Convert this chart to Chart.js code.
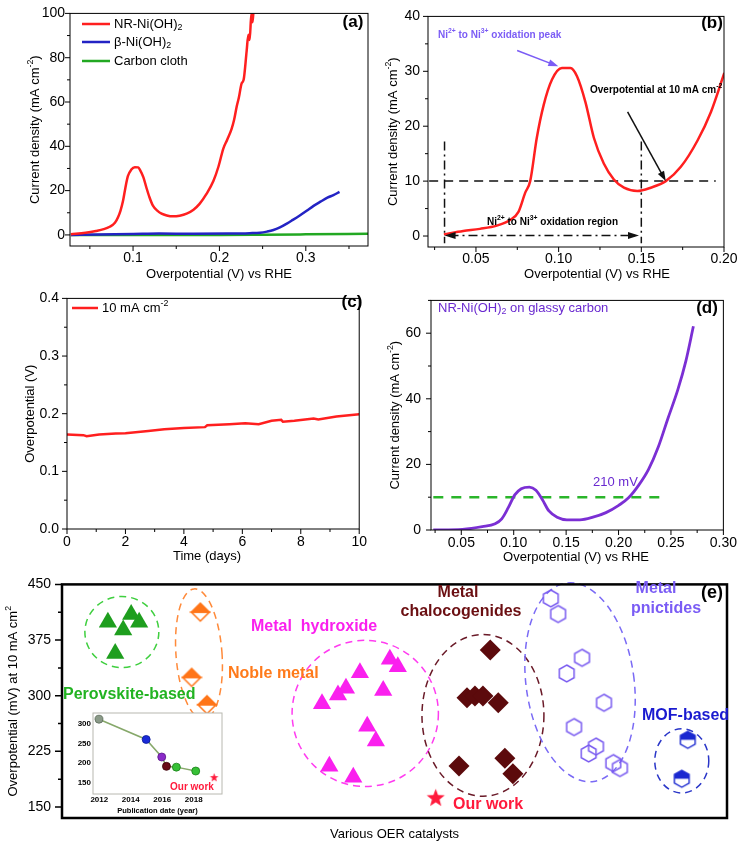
<!DOCTYPE html>
<html>
<head>
<meta charset="utf-8">
<title>NR-Ni(OH)2 OER performance</title>
<script src="https://cdn.jsdelivr.net/npm/chart.js@4.4.1/dist/chart.umd.min.js"></script>
<style>
  body { margin: 0; background: #fff; }
  #wrap { position: relative; width: 742px; height: 847px; overflow: hidden; }
  canvas { position: absolute; }
</style>
</head>
<body>
<div id="wrap">
  <canvas id="cA" width="372" height="282" style="left:0px;top:0px"></canvas>
  <canvas id="cB" width="370" height="282" style="left:372px;top:0px"></canvas>
  <canvas id="cC" width="372" height="283" style="left:0px;top:282px"></canvas>
  <canvas id="cD" width="370" height="283" style="left:372px;top:282px"></canvas>
  <canvas id="cE" width="742" height="282" style="left:0px;top:565px"></canvas>
  <canvas id="cI" width="170" height="112" style="left:60px;top:705px"></canvas>
</div>
<script>
/* ---------- DATA ---------- */
// (a) LSV curves, overpotential (V) vs current density (mA cm-2)
const aNrEta = [0.028, 0.045, 0.057, 0.066, 0.073, 0.079, 0.0826, 0.0855, 0.0884, 0.091, 0.094, 0.098, 0.102, 0.106, 0.108, 0.112, 0.1155, 0.119, 0.123, 0.128, 0.133, 0.139, 0.146, 0.154, 0.162, 0.170, 0.177, 0.185, 0.193, 0.199, 0.2045, 0.209, 0.214, 0.217, 0.220, 0.2225, 0.2257, 0.228, 0.2315, 0.2335, 0.235, 0.237, 0.2385, 0.240];
const aNrJ   = [0.3, 1.0, 1.8, 2.6, 3.7, 5.5, 8, 11, 15.4, 21, 26.5, 29.5, 30.6, 30.5, 29.4, 26, 21.3, 17, 13.2, 11, 9.6, 8.8, 8.4, 8.7, 9.6, 11.4, 14, 18.5, 24.3, 31, 39, 43, 47.8, 52, 58, 62, 68.4, 70, 83, 90.4, 88, 100, 96, 106];
const aBetaEta = [0.028, 0.06, 0.10, 0.13, 0.17, 0.21, 0.235, 0.247, 0.255, 0.2625, 0.27, 0.278, 0.285, 0.293, 0.301, 0.309, 0.317, 0.325, 0.332, 0.339];
const aBetaJ   = [0, 0.2, 0.4, 0.6, 0.5, 0.6, 0.8, 1.0, 1.5, 2.2, 3.4, 5.1, 6.8, 8.8, 10.9, 13.1, 15, 16.8, 18, 19.4];
const aCcEta = [0.028, 0.10, 0.20, 0.25, 0.30, 0.372];
const aCcJ   = [0, 0, 0, 0.1, 0.25, 0.5];

// (b) zoom on the Ni2+/Ni3+ oxidation peak
const bEta = [0.0306, 0.0423, 0.0524, 0.0626, 0.0706, 0.0757, 0.0798, 0.0828, 0.0868, 0.0909, 0.096, 0.102, 0.1071, 0.1111, 0.1162, 0.1213, 0.1273, 0.1334, 0.1395, 0.1476, 0.1557, 0.1648, 0.1739, 0.184, 0.1921, 0.2002];
const bJ   = [0.3, 0.9, 1.3, 1.9, 2.9, 4.4, 7.9, 10, 17.9, 23.8, 28.5, 30.6, 30.6, 29.1, 24.4, 17.9, 13.2, 10.3, 8.8, 8.2, 8.8, 10, 12.6, 17.4, 22.6, 29.7];

// (c) stability at 10 mA cm-2
const cDays = [0, 0.56, 0.67, 1.1, 1.67, 2.0, 2.78, 3.33, 4.0, 4.72, 4.8, 5.56, 6.1, 6.56, 7.0, 7.33, 7.39, 7.78, 8.44, 8.6, 9.22, 10];
const cEta  = [0.1639, 0.1628, 0.161, 0.164, 0.1656, 0.166, 0.170, 0.173, 0.175, 0.1767, 0.18, 0.1817, 0.1833, 0.1817, 0.1878, 0.1894, 0.186, 0.1878, 0.1917, 0.19, 0.195, 0.1989];

// (d) NR-Ni(OH)2 on glassy carbon
const dEta = [0.0233, 0.051, 0.07, 0.0823, 0.0886, 0.0948, 0.101, 0.1072, 0.115, 0.1212, 0.1274, 0.1336, 0.1414, 0.1507, 0.1632, 0.1756, 0.188, 0.2005, 0.2098, 0.2191, 0.2285, 0.2378, 0.2471, 0.2565, 0.2642, 0.2714];
const dJ   = [0, 0.2, 1.0, 1.9, 3.4, 6.8, 10.7, 12.6, 13.1, 12.1, 9.2, 5.8, 3.9, 3.1, 3.1, 3.9, 5.3, 7.6, 9.9, 13.6, 18.4, 25.2, 34, 42.7, 51.5, 62.1];

// (e) overpotential at 10 mA cm-2 for catalyst families (x = position along the category axis)
const perovX = [6.9, 10.4, 11.6, 9.2, 8.0];
const perovY = [399, 409.5, 399, 388.5, 357];
const nobleX = [20.8, 19.5, 21.8];
const nobleY = [412.7, 324.7, 287.9];
const hydroxX = [49.3, 50.5, 44.8, 42.7, 41.5, 39.1, 48.3, 45.9, 47.2, 40.2, 43.8];
const hydroxY = [349, 339, 331, 310, 301, 289, 307, 259, 239, 205, 190];
const chalcX = [64.4, 60.9, 62.1, 63.3, 65.6, 59.7, 66.6, 67.8];
const chalcY = [361.5, 297.1, 299.7, 299.7, 290.5, 205.2, 215.7, 194.7];
const pnicX = [73.5, 74.6, 78.2, 75.9, 81.5, 77.0, 80.3, 79.2, 82.9, 83.9];
const pnicY = [431.1, 410.1, 351.0, 330.0, 290.5, 257.7, 231.4, 222.2, 209.1, 202.5];
const mofX = [94.1, 93.2];
const mofY = [240.6, 188.1];
const ourX = [56.2];
const ourY = [161.8];

// inset: best reported overpotential by publication year
const pubYear = [2011.98, 2014.98, 2015.97, 2016.27, 2016.9, 2018.13];
const pubEta  = [312, 260, 215, 191, 189, 179];
const ourYear = [2019.3];
const ourEta  = [162];

/* ---------- HELPERS ---------- */
const FONT = '"Liberation Sans", Arial, Helvetica, sans-serif';
Chart.defaults.font.family = FONT;
Chart.defaults.color = '#000';
Chart.defaults.animation = false;
Chart.defaults.events = [];
Chart.defaults.plugins.legend.display = false;
Chart.defaults.plugins.tooltip.enabled = false;

const pts = (xs, ys) => xs.map((x, i) => ({ x: x, y: ys[i] }));

function curve(xs, ys, color, width, extra) {
  return Object.assign({
    data: pts(xs, ys), showLine: true, borderColor: color, backgroundColor: color,
    borderWidth: width || 2.5, pointRadius: 0, cubicInterpolationMode: 'monotone', fill: false
  }, extra || {});
}

// text with ^sup and _sub parts
function rich(ctx, parts, x, y, o) {
  o = o || {};
  const size = o.size || 13, wt = o.bold ? 'bold ' : '';
  const segs = parts.map(p => {
    let t = p, s = size, dy = 0;
    if (p[0] === '^') { t = p.slice(1); s = size * 0.68; dy = -size * 0.36; }
    else if (p[0] === '_') { t = p.slice(1); s = size * 0.68; dy = size * 0.24; }
    ctx.font = wt + s + 'px ' + FONT;
    return { t: t, s: s, dy: dy, w: ctx.measureText(t).width };
  });
  const total = segs.reduce((sum, g) => sum + g.w, 0);
  ctx.save();
  ctx.translate(x, y);
  if (o.rot) ctx.rotate(o.rot);
  let cx = o.align === 'center' ? -total / 2 : (o.align === 'right' ? -total : 0);
  ctx.fillStyle = o.color || '#000';
  ctx.textBaseline = 'middle';
  ctx.textAlign = 'left';
  segs.forEach(g => { ctx.font = wt + g.s + 'px ' + FONT; ctx.fillText(g.t, cx, g.dy); cx += g.w; });
  ctx.restore();
}

// box + outward major/minor ticks
function frame(chart, f) {
  const ctx = chart.ctx, a = chart.chartArea, sx = chart.scales.x, sy = chart.scales.y;
  ctx.save();
  ctx.strokeStyle = f.color || '#000';
  ctx.lineWidth = f.lw || 1;
  ctx.strokeRect(a.left, a.top, a.right - a.left, a.bottom - a.top);
  ctx.lineWidth = f.tw || 1;
  ctx.beginPath();
  const tx = (vals, len) => vals.forEach(v => { const p = sx.getPixelForValue(v); ctx.moveTo(p, a.bottom); ctx.lineTo(p, a.bottom + len); });
  const ty = (vals, len) => vals.forEach(v => { const p = sy.getPixelForValue(v); ctx.moveTo(a.left, p); ctx.lineTo(a.left - len, p); });
  tx(f.xMaj || [], f.maj || 5); tx(f.xMin || [], f.min || 3);
  ty(f.yMaj || [], f.maj || 5); ty(f.yMin || [], f.min || 3);
  ctx.stroke();
  ctx.restore();
}

function scales(o) {
  return {
    x: {
      type: 'linear', min: o.x[0], max: o.x[1],
      afterBuildTicks: s => { s.ticks = o.xt.map(v => ({ value: v })); },
      afterFit: s => { s.height = o.xh; },
      grid: { display: false, drawTicks: false }, border: { display: false },
      ticks: { display: o.xt.length > 0, padding: o.xp, maxRotation: 0, autoSkip: false,
               font: { size: o.fs || 14, weight: o.fw || 'normal' }, callback: o.xf }
    },
    y: {
      type: 'linear', min: o.y[0], max: o.y[1],
      afterBuildTicks: s => { s.ticks = o.yt.map(v => ({ value: v })); },
      afterFit: s => { s.width = o.yw; },
      grid: { display: false, drawTicks: false }, border: { display: false },
      ticks: { padding: o.yp, autoSkip: false,
               font: { size: o.fs || 14, weight: o.fw || 'normal' }, callback: o.yf }
    }
  };
}

function head(ctx, x1, y1, x2, y2, len, wid, color) {
  const a = Math.atan2(y2 - y1, x2 - x1);
  ctx.save();
  ctx.fillStyle = color;
  ctx.beginPath();
  ctx.moveTo(x2, y2);
  ctx.lineTo(x2 - len * Math.cos(a) + wid * Math.sin(a), y2 - len * Math.sin(a) - wid * Math.cos(a));
  ctx.lineTo(x2 - len * Math.cos(a) - wid * Math.sin(a), y2 - len * Math.sin(a) + wid * Math.cos(a));
  ctx.closePath();
  ctx.fill();
  ctx.restore();
}

function arrow(chart, from, to, color, lw) {
  const sx = chart.scales.x, sy = chart.scales.y, ctx = chart.ctx;
  const x1 = sx.getPixelForValue(from[0]), y1 = sy.getPixelForValue(from[1]);
  const x2 = sx.getPixelForValue(to[0]), y2 = sy.getPixelForValue(to[1]);
  ctx.save();
  ctx.strokeStyle = color; ctx.lineWidth = lw || 1.5;
  ctx.beginPath(); ctx.moveTo(x1, y1); ctx.lineTo(x2 - (x2 - x1) * 0.08, y2 - (y2 - y1) * 0.08); ctx.stroke();
  ctx.restore();
  head(ctx, x1, y1, x2, y2, 10, 3.5, color);
}

const RED = '#ff1f1f', BLUE = '#2323c4', GREEN = '#22a822', PURPLE = '#7b2fd4';
const num = d => v => Number(v).toFixed(d);

/* ---------- (a) ---------- */
new Chart(document.getElementById('cA'), {
  type: 'scatter',
  data: { datasets: [
    curve(aNrEta, aNrJ, RED),
    curve(aBetaEta, aBetaJ, BLUE),
    curve(aCcEta, aCcJ, GREEN)
  ] },
  options: {
    responsive: false,
    layout: { padding: { top: 8, right: 4, left: 0, bottom: 0 } },
    scales: scales({ x: [0.027, 0.372], y: [-5, 100], xt: [0.1, 0.2, 0.3], yt: [0, 20, 40, 60, 80, 100],
                     xh: 36, yw: 70, xp: 4, yp: 5, xf: num(1), yf: num(0) })
  },
  plugins: [{
    id: 'decoA',
    afterDraw(chart) {
      const ctx = chart.ctx, a = chart.chartArea;
      frame(chart, { xMaj: [0.1, 0.2, 0.3], xMin: [0.05, 0.15, 0.25, 0.35],
                     yMaj: [0, 20, 40, 60, 80, 100], yMin: [10, 30, 50, 70, 90] });
      [[RED, ['NR-Ni(OH)', '_2'], 24], [BLUE, ['β-Ni(OH)', '_2'], 42], [GREEN, ['Carbon cloth'], 61]].forEach(l => {
        ctx.save(); ctx.strokeStyle = l[0]; ctx.lineWidth = 2.5;
        ctx.beginPath(); ctx.moveTo(82, l[2]); ctx.lineTo(110, l[2]); ctx.stroke(); ctx.restore();
        rich(ctx, l[1], 114, l[2], { size: 13 });
      });
      rich(ctx, ['(a)'], 353, 22, { size: 17, bold: true, align: 'center' });
      rich(ctx, ['Overpotential (V) vs RHE'], (a.left + a.right) / 2, 274, { align: 'center' });
      rich(ctx, ['Current density (mA cm', '^-2', ')'], 35, (a.top + a.bottom) / 2, { align: 'center', rot: -Math.PI / 2 });
    }
  }]
});

/* ---------- (b) ---------- */
const dashDot = [9, 4, 2, 4];
new Chart(document.getElementById('cB'), {
  type: 'scatter',
  data: { datasets: [
    curve(bEta, bJ, RED),
    curve([0.0217, 0.195], [10, 10], '#111', 1.5, { borderDash: [9, 6] }),
    curve([0.031, 0.031], [17.2, -1.3], '#111', 1.5, { borderDash: dashDot }),
    curve([0.15, 0.15], [17.2, -1.3], '#111', 1.5, { borderDash: dashDot }),
    curve([0.034, 0.146], [0.1, 0.1], '#111', 1.5, { borderDash: dashDot })
  ] },
  options: {
    responsive: false,
    layout: { padding: { top: 8, right: 18, left: 0, bottom: 0 } },
    scales: scales({ x: [0.021, 0.2], y: [-2, 40], xt: [0.05, 0.10, 0.15, 0.20], yt: [0, 10, 20, 30, 40],
                     xh: 35, yw: 56, xp: 4, yp: 8, xf: num(2), yf: num(0) })
  },
  plugins: [{
    id: 'decoB',
    afterDraw(chart) {
      const ctx = chart.ctx, a = chart.chartArea, sx = chart.scales.x, sy = chart.scales.y;
      frame(chart, { xMaj: [0.05, 0.10, 0.15, 0.20], xMin: [0.025, 0.075, 0.125, 0.175],
                     yMaj: [0, 10, 20, 30, 40], yMin: [5, 15, 25, 35] });
      const y0 = sy.getPixelForValue(0.1);
      head(ctx, sx.getPixelForValue(0.05), y0, sx.getPixelForValue(0.031), y0, 11, 3.5, '#111');
      head(ctx, sx.getPixelForValue(0.13), y0, sx.getPixelForValue(0.1486), y0, 11, 3.5, '#111');
      arrow(chart, [0.0749, 33.8], [0.0998, 30.9], '#7b5cf5', 1.5);
      arrow(chart, [0.1417, 22.6], [0.1648, 10.0], '#111', 1.5);
      rich(ctx, ['Ni', '^2+', ' to Ni', '^3+', ' oxidation peak'], 66, 35, { size: 10, bold: true, color: '#7b5cf5' });
      rich(ctx, ['Overpotential at 10 mA cm', '^-2'], 218, 90, { size: 10, bold: true });
      rich(ctx, ['Ni', '^2+', ' to Ni', '^3+', ' oxidation region'], 115, 222, { size: 10, bold: true });
      rich(ctx, ['(b)'], 340, 23, { size: 17, bold: true, align: 'center' });
      rich(ctx, ['Overpotential (V) vs RHE'], 225, 274, { align: 'center' });
      rich(ctx, ['Current density (mA cm', '^-2', ')'], 21, (a.top + a.bottom) / 2, { align: 'center', rot: -Math.PI / 2 });
    }
  }]
});

/* ---------- (c) ---------- */
new Chart(document.getElementById('cC'), {
  type: 'scatter',
  data: { datasets: [ curve(cDays, cEta, RED, 2.5, { cubicInterpolationMode: 'default', tension: 0 }) ] },
  options: {
    responsive: false,
    layout: { padding: { top: 7, right: 5, left: 0, bottom: 0 } },
    scales: scales({ x: [0, 10], y: [0, 0.4], xt: [0, 2, 4, 6, 8, 10], yt: [0, 0.1, 0.2, 0.3, 0.4],
                     xh: 36, yw: 67, xp: 5, yp: 8, xf: num(0), yf: num(1) })
  },
  plugins: [{
    id: 'decoC',
    afterDraw(chart) {
      const ctx = chart.ctx, a = chart.chartArea;
      frame(chart, { xMaj: [0, 2, 4, 6, 8, 10], xMin: [1, 3, 5, 7, 9],
                     yMaj: [0, 0.1, 0.2, 0.3, 0.4], yMin: [0.05, 0.15, 0.25, 0.35] });
      ctx.save(); ctx.strokeStyle = RED; ctx.lineWidth = 2.5;
      ctx.beginPath(); ctx.moveTo(72, 26); ctx.lineTo(98, 26); ctx.stroke(); ctx.restore();
      rich(ctx, ['10 mA cm', '^-2'], 102, 26, { size: 13 });
      rich(ctx, ['(c)'], 352, 20, { size: 17, bold: true, align: 'center' });
      rich(ctx, ['Time (days)'], 207, 274, { align: 'center' });
      rich(ctx, ['Overpotential (V)'], 30, (a.top + a.bottom) / 2, { align: 'center', rot: -Math.PI / 2 });
    }
  }]
});

/* ---------- (d) ---------- */
new Chart(document.getElementById('cD'), {
  type: 'scatter',
  data: { datasets: [
    curve(dEta, dJ, PURPLE, 2.8),
    curve([0.0233, 0.244], [10, 10], '#2ab52a', 2.5, { borderDash: [10, 8] })
  ] },
  options: {
    responsive: false,
    layout: { padding: { top: 7, right: 12, left: 0, bottom: 0 } },
    scales: scales({ x: [0.0211, 0.30], y: [0, 70], xt: [0.05, 0.10, 0.15, 0.20, 0.25, 0.30], yt: [0, 20, 40, 60],
                     xh: 35, yw: 59, xp: 5, yp: 10, xf: num(2), yf: num(0) })
  },
  plugins: [{
    id: 'decoD',
    afterDraw(chart) {
      const ctx = chart.ctx, a = chart.chartArea;
      frame(chart, { xMaj: [0.05, 0.10, 0.15, 0.20, 0.25, 0.30], xMin: [0.025, 0.075, 0.125, 0.175, 0.225, 0.275],
                     yMaj: [0, 20, 40, 60], yMin: [10, 30, 50, 70] });
      rich(ctx, ['NR-Ni(OH)', '_2', ' on glassy carbon'], 66, 26, { size: 13, color: '#6a2ad0' });
      rich(ctx, ['210 mV'], 221, 200, { size: 13, color: '#6a2ad0' });
      rich(ctx, ['(d)'], 335, 26, { size: 17, bold: true, align: 'center' });
      rich(ctx, ['Overpotential (V) vs RHE'], 204, 275, { align: 'center' });
      rich(ctx, ['Current density (mA cm', '^-2', ')'], 23, (a.top + a.bottom) / 2, { align: 'center', rot: -Math.PI / 2 });
    }
  }]
});

/* ---------- (e) ---------- */
function sprite(size, draw) {
  const c = document.createElement('canvas');
  c.width = c.height = size;
  draw(c.getContext('2d'), size / 2);
  return c;
}
function hexPath(g, c, r) {
  g.beginPath();
  for (let k = 0; k < 6; k++) {
    const t = -Math.PI / 2 + k * Math.PI / 3;
    g.lineTo(c + r * Math.cos(t), c + r * Math.sin(t));
  }
  g.closePath();
}
const halfDiamond = (col, r) => sprite(2 * r + 4, (g, c) => {
  g.lineWidth = 1.5; g.strokeStyle = col;
  g.beginPath(); g.moveTo(c - r, c); g.lineTo(c, c + r); g.lineTo(c + r, c); g.closePath();
  g.fillStyle = '#fff'; g.fill(); g.stroke();
  g.beginPath(); g.moveTo(c - r, c); g.lineTo(c, c - r); g.lineTo(c + r, c); g.closePath();
  g.fillStyle = col; g.fill(); g.stroke();
});
const hexOpen = (col, r) => sprite(2 * r + 4, (g, c) => {
  g.lineWidth = 1.5; g.strokeStyle = col; hexPath(g, c, r); g.stroke();
});
const hexHalf = (col, r) => sprite(2 * r + 4, (g, c) => {
  g.lineWidth = 1.4; g.strokeStyle = col;
  hexPath(g, c, r); g.fillStyle = '#fff'; g.fill();
  g.save(); hexPath(g, c, r); g.clip(); g.fillStyle = col; g.fillRect(0, 0, 2 * c, c); g.restore();
  hexPath(g, c, r); g.stroke();
});
const star = (col, r) => sprite(2 * r + 2, (g, c) => {
  g.beginPath();
  for (let k = 0; k < 10; k++) {
    const t = -Math.PI / 2 + k * Math.PI / 5, rr = k % 2 ? r * 0.42 : r;
    g.lineTo(c + rr * Math.cos(t), c + rr * Math.sin(t));
  }
  g.closePath(); g.fillStyle = col; g.fill();
});

const groupRings = [
  { c: [9.0, 385.8],  r: [5.56, 47.9], rot: 0,      color: '#3fcf3f' },
  { c: [20.6, 356.2], r: [3.46, 88],   rot: -0.074, color: '#ff8a3a' },
  { c: [45.6, 276.1], r: [11, 98.5],   rot: 0,      color: '#ff3cf0' },
  { c: [63.3, 273.5], r: [9.17, 109],  rot: 0,      color: '#6a1a28' },
  { c: [77.9, 318.1], r: [8.12, 135],  rot: -0.137, color: '#7a6af5' },
  { c: [93.2, 212.2], r: [4.06, 43.3], rot: 0,      color: '#2a36c8' }
];

function marks(xs, ys, style) {
  return Object.assign({ data: pts(xs, ys), pointRadius: 10, borderWidth: 0 }, style);
}

new Chart(document.getElementById('cE'), {
  type: 'scatter',
  data: { datasets: [
    marks(perovX, perovY, { pointStyle: 'triangle', pointRadius: 10.5, backgroundColor: '#1e9e1e', borderColor: '#1e9e1e' }),
    marks(nobleX, nobleY, { pointStyle: halfDiamond('#ff7518', 9) }),
    marks(hydroxX, hydroxY, { pointStyle: 'triangle', pointRadius: 10.5, backgroundColor: '#fa20ee', borderColor: '#fa20ee' }),
    marks(chalcX, chalcY, { pointStyle: 'rectRot', pointRadius: 10.5, backgroundColor: '#5c0a0c', borderColor: '#5c0a0c' }),
    marks(pnicX, pnicY, { pointStyle: hexOpen('#7a5cf0', 8.5) }),
    marks(mofX, mofY, { pointStyle: hexHalf('#1a28d0', 8.5) }),
    marks(ourX, ourY, { pointStyle: star('#ff1a3c', 9.5) })
  ] },
  options: {
    responsive: false,
    layout: { padding: { top: 13, right: 15, left: 0, bottom: 0 } },
    scales: scales({ x: [0, 100], y: [135.2, 450], xt: [], yt: [150, 225, 300, 375, 450],
                     xh: 29, yw: 62, xp: 0, yp: 11, xf: num(0), yf: num(0) })
  },
  plugins: [{
    id: 'decoE',
    beforeDatasetsDraw(chart) {
      const ctx = chart.ctx, sx = chart.scales.x, sy = chart.scales.y;
      groupRings.forEach(e => {
        const cx = sx.getPixelForValue(e.c[0]), cy = sy.getPixelForValue(e.c[1]);
        const rx = Math.abs(sx.getPixelForValue(e.c[0] + e.r[0]) - cx);
        const ry = Math.abs(sy.getPixelForValue(e.c[1] + e.r[1]) - cy);
        ctx.save();
        ctx.beginPath(); ctx.ellipse(cx, cy, rx, ry, e.rot, 0, 2 * Math.PI);
        ctx.setLineDash([7, 5]); ctx.lineWidth = 1.5; ctx.strokeStyle = e.color; ctx.stroke();
        ctx.restore();
      });
    },
    afterDraw(chart) {
      const ctx = chart.ctx, a = chart.chartArea;
      frame(chart, { lw: 2.5, tw: 1.5, maj: 7, min: 4, yMaj: [150, 225, 300, 375, 450], yMin: [187.5, 262.5, 337.5, 412.5] });
      const B = { size: 16, bold: true };
      rich(ctx, ['Perovskite-based'], 63, 130, Object.assign({ color: '#22b322' }, B));
      rich(ctx, ['Noble metal'], 228, 109, Object.assign({ color: '#ff7a1a' }, B));
      rich(ctx, ['Metal  hydroxide'], 251, 62, Object.assign({ color: '#fa20ee' }, B));
      rich(ctx, ['Metal'], 458, 28, Object.assign({ color: '#6b0f12', align: 'center' }, B));
      rich(ctx, ['chalocogenides'], 461, 47, Object.assign({ color: '#6b0f12', align: 'center' }, B));
      rich(ctx, ['Metal'], 656, 24, Object.assign({ color: '#7a5cf5', align: 'center' }, B));
      rich(ctx, ['pnictides'], 666, 44, Object.assign({ color: '#7a5cf5', align: 'center' }, B));
      rich(ctx, ['MOF-based'], 642, 151, Object.assign({ color: '#1a1ad0' }, B));
      rich(ctx, ['Our work'], 453, 240, Object.assign({ color: '#ff1a3c' }, B));
      rich(ctx, ['(e)'], 712, 28, { size: 18, bold: true, align: 'center' });
      rich(ctx, ['Various OER catalysts'], (a.left + a.right) / 2, 269, { align: 'center' });
      rich(ctx, ['Overpotential (mV) at 10 mA cm', '^2'], 13, (a.top + a.bottom) / 2, { align: 'center', rot: -Math.PI / 2 });
    }
  }]
});

/* ---------- inset ---------- */
new Chart(document.getElementById('cI'), {
  type: 'scatter',
  data: { datasets: [
    { data: pts(pubYear, pubEta), showLine: true, borderColor: '#86a86a', borderWidth: 1.5, tension: 0,
      pointRadius: 4, pointBorderWidth: 0.8,
      pointBackgroundColor: ['#8a9a88', '#1a2ad8', '#8a2ac8', '#6a0a18', '#36c036', '#36c036'],
      pointBorderColor: ['#5a6a58', '#0a1a98', '#5a1a88', '#3a0008', '#1a801a', '#1a801a'] },
    { data: pts(ourYear, ourEta), pointStyle: star('#ff1a3c', 4.5), pointRadius: 4 }
  ] },
  options: {
    responsive: false,
    layout: { padding: { top: 8, right: 8, left: 0, bottom: 0 } },
    scales: scales({ x: [2011.6, 2019.8], y: [120, 328], xt: [2012, 2014, 2016, 2018], yt: [150, 200, 250, 300],
                     xh: 23, yw: 33, xp: 1, yp: 2, fs: 8, fw: 'bold', xf: num(0), yf: num(0) })
  },
  plugins: [{
    id: 'decoI',
    beforeDatasetsDraw(chart) {
      const ctx = chart.ctx, a = chart.chartArea;
      ctx.save(); ctx.fillStyle = '#fff'; ctx.fillRect(a.left, a.top, a.right - a.left, a.bottom - a.top); ctx.restore();
    },
    afterDraw(chart) {
      const ctx = chart.ctx, a = chart.chartArea;
      frame(chart, { color: '#b8b8b0', lw: 1, maj: 0, min: 0 });
      rich(ctx, ['Our work'], 110, 82, { size: 10, bold: true, color: '#ff1a3c' });
      rich(ctx, ['Publication date (year)'], (a.left + a.right) / 2, 106, { size: 7.5, bold: true, align: 'center' });
    }
  }]
});
</script>
</body>
</html>
